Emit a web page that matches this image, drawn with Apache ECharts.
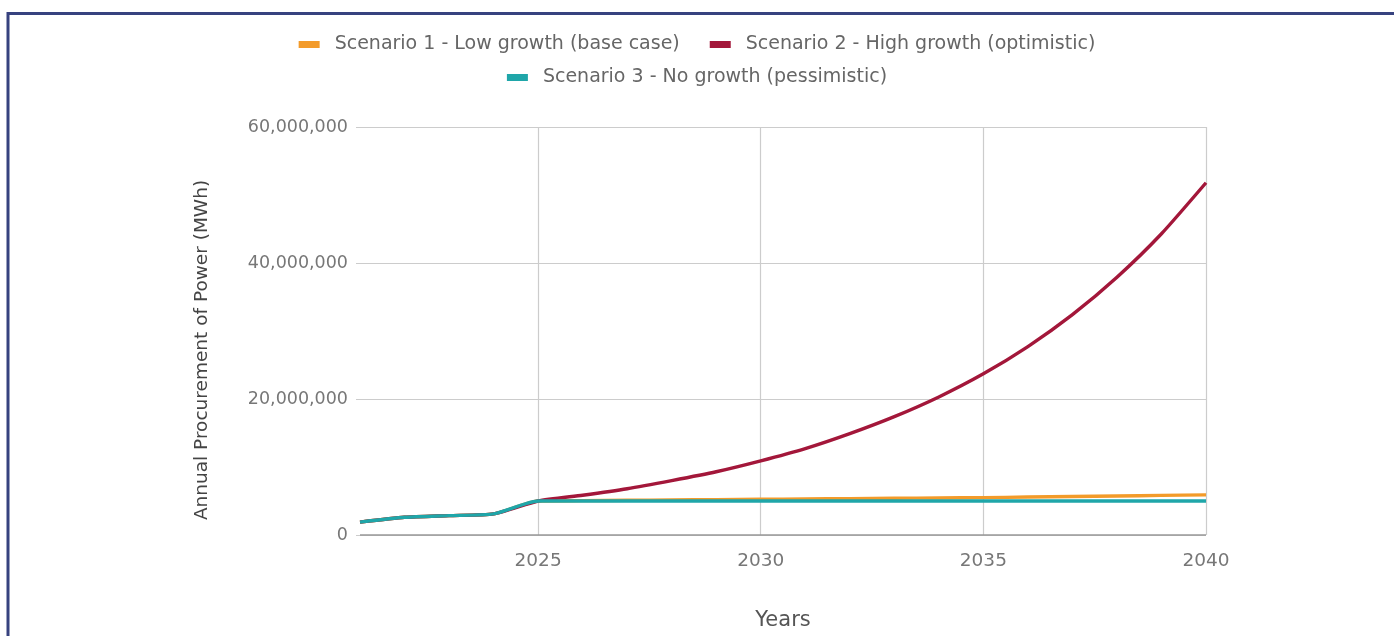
<!DOCTYPE html>
<html>
<head>
<meta charset="utf-8">
<title>Annual Procurement of Power</title>
<script src="https://cdn.jsdelivr.net/npm/echarts@6/dist/echarts.min.js"></script>
<style>
  html, body { margin: 0; padding: 0; background: #ffffff; }
  #chart { width: 1394px; height: 636px; }
</style>
</head>
<body>
<div id="chart"></div>
<script>
// Years on the horizontal axis
const years = [2021, 2022, 2023, 2024, 2025, 2026, 2027, 2028, 2029, 2030,
               2031, 2032, 2033, 2034, 2035, 2036, 2037, 2038, 2039, 2040];

// Annual procurement of power per scenario (MWh)
const lowGrowth = [1900000, 2600000, 2850000, 3100000, 5000000, 5050000, 5100000, 5150000, 5200000, 5250000,
                   5300000, 5350000, 5400000, 5450000, 5500000, 5580000, 5660000, 5740000, 5820000, 5900000];
const highGrowth = [1900000, 2600000, 2850000, 3100000, 5000000, 5850000, 6800000, 8000000, 9300000, 10900000,
                    12700000, 14900000, 17400000, 20300000, 23700000, 27700000, 32400000, 37900000, 44300000, 51800000];
const noGrowth = [1900000, 2600000, 2850000, 3100000, 5000000, 5000000, 5000000, 5000000, 5000000, 5000000,
                  5000000, 5000000, 5000000, 5000000, 5000000, 5000000, 5000000, 5000000, 5000000, 5000000];

const seriesNames = [
  'Scenario 1 - Low growth (base case)',
  'Scenario 2 - High growth (optimistic)',
  'Scenario 3 - No growth (pessimistic)'
];
const seriesColors = ['#f39b2a', '#a3173a', '#1fa6a9'];

// Y axis ticks: 0 to 60,000,000 every 20,000,000
const yMin = 0, yMax = 60000000, yStep = 20000000;

const FONT = '"DejaVu Sans", Roboto, sans-serif';
const chart = echarts.init(document.getElementById('chart'), null, { renderer: 'canvas' });

function lineSeries(name, data, color) {
  return {
    name: name,
    type: 'line',
    data: data,
    showSymbol: false,
    symbol: 'none',
    smooth: 0.2,
    lineStyle: { color: color, width: 3.4 },
    itemStyle: { color: color },
    emphasis: { disabled: true }
  };
}

function legendRow(top, names) {
  return {
    top: top,
    left: 'center',
    width: 1300,
    itemWidth: 21,
    itemHeight: 7,
    itemGap: 30,
    icon: 'rect',
    textStyle: { color: '#666666', fontSize: 19, fontFamily: FONT, padding: [0, 0, 0, 10] },
    data: names
  };
}

chart.setOption({
  backgroundColor: '#ffffff',
  animation: false,
  textStyle: { fontFamily: FONT },
  graphic: [{
    // navy frame along the top and left edges
    type: 'polyline',
    shape: { points: [[8, 700], [8, 13.5], [1400, 13.5]] },
    style: { stroke: '#37427f', lineWidth: 3, fill: null }
  }],
  legend: [
    legendRow(30, [seriesNames[0], seriesNames[1]]),
    legendRow(63, [seriesNames[2]])
  ],
  grid: { left: 360, right: 188, top: 127, bottom: 99, containLabel: false },
  xAxis: {
    type: 'category',
    data: years,
    boundaryGap: false,
    name: 'Years',
    nameLocation: 'middle',
    nameGap: 75,
    nameTextStyle: { color: '#555555', fontSize: 21, fontFamily: FONT },
    axisLine: { show: false },
    axisTick: { show: false },
    axisLabel: {
      color: '#777777', fontSize: 18.5, fontFamily: FONT, margin: 17,
      interval: (i, v) => Number(v) % 5 === 0
    },
    splitLine: {
      show: true,
      interval: (i, v) => Number(v) % 5 === 0,
      lineStyle: { color: '#cccccc', width: 1.2 }
    }
  },
  yAxis: {
    type: 'value',
    min: yMin,
    max: yMax,
    interval: yStep,
    name: 'Annual Procurement of Power (MWh)',
    nameLocation: 'middle',
    nameGap: 148,
    nameTextStyle: { color: '#444444', fontSize: 18.5, fontFamily: FONT, padding: [0, 38, 0, 0] },
    axisLine: { show: false },
    axisTick: { show: true, length: 4, lineStyle: { color: '#cccccc' } },
    axisLabel: {
      color: '#777777', fontSize: 17.5, fontFamily: FONT, margin: 12,
      formatter: v => v.toLocaleString('en-US')
    },
    splitLine: { show: true, lineStyle: { color: '#cccccc', width: 1.2 } }
  },
  series: [
    lineSeries(seriesNames[0], lowGrowth, seriesColors[0]),
    lineSeries(seriesNames[1], highGrowth, seriesColors[1]),
    lineSeries(seriesNames[2], noGrowth, seriesColors[2]),
    {
      // darker baseline at zero
      type: 'line',
      data: [],
      markLine: {
        silent: true,
        symbol: 'none',
        label: { show: false },
        lineStyle: { color: '#999999', width: 1.5, type: 'solid' },
        data: [{ yAxis: 0 }]
      }
    }
  ]
});
</script>
</body>
</html>
